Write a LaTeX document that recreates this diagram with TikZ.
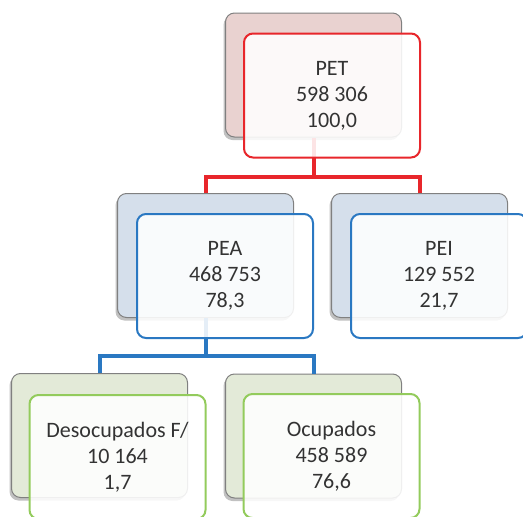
\documentclass[tikz,border=0pt]{standalone}
\usepackage{fontspec}
\setmainfont{Carlito}
\usetikzlibrary{shadows}
\definecolor{petback}{HTML}{E9D2D0}
\definecolor{peaback}{HTML}{D5DFEB}
\definecolor{desback}{HTML}{E3EAD8}
\definecolor{redline}{HTML}{E8262B}
\definecolor{blueline}{HTML}{2A78C2}
\definecolor{greenline}{HTML}{93CB5C}
\definecolor{txt}{HTML}{333333}
\tikzset{
  backbox/.style={draw=black!50, line width=1pt, rounded corners=9pt,
    minimum width=176pt, minimum height=124pt, inner sep=0pt,
    drop shadow={shadow xshift=-2pt, shadow yshift=-3pt, opacity=0.35, fill=black!70}},
  frontbox/.style={line width=2pt, rounded corners=9pt, fill=white, fill opacity=0.88, text opacity=1,
    minimum width=176pt, minimum height=124pt, inner sep=0pt, align=center,
    text=txt, font=\fontsize{22}{26}\selectfont},
  conn/.style={line width=4pt},
}
\begin{document}
\begin{tikzpicture}[x=1pt,y=-1pt]
\useasboundingbox (0,0) rectangle (523,517);
% back boxes
\node[backbox, fill=petback] (petb) at (313.5,75) {};
\node[backbox, fill=peaback] (peab) at (205.5,255.5) {};
\node[backbox, fill=peaback] (peib) at (419.5,255.5) {};
\node[backbox, fill=desback] (desb) at (99.5,435.5) {};
\node[backbox, fill=desback] (ocub) at (313.5,436) {};
% connectors
\draw[conn, redline] (petb.south) -- (313.5,177) coordinate (rj);
\draw[conn, redline] (peab.north) |- (rj) -| (peib.north);
\draw[conn, blueline] (peab.south) -- (205.5,356) coordinate (bj);
\draw[conn, blueline] (desb.north) |- (bj) -| (ocub.north);
% front boxes
\node[frontbox, draw=redline] (pet) at (332,95.5) {PET\\598 306\\100,0};
\node[frontbox, draw=blueline] (pea) at (225,276) {PEA\\468 753\\78,3};
\node[frontbox, draw=blueline] (pei) at (439,276) {PEI\\129 552\\21,7};
\node[frontbox, draw=greenline] (des) at (117.5,457) {Desocupados F/\\10 164\\1,7};
\node[frontbox, draw=greenline] (ocu) at (331.5,456) {Ocupados\\458 589\\76,6};
\end{tikzpicture}
\end{document}
